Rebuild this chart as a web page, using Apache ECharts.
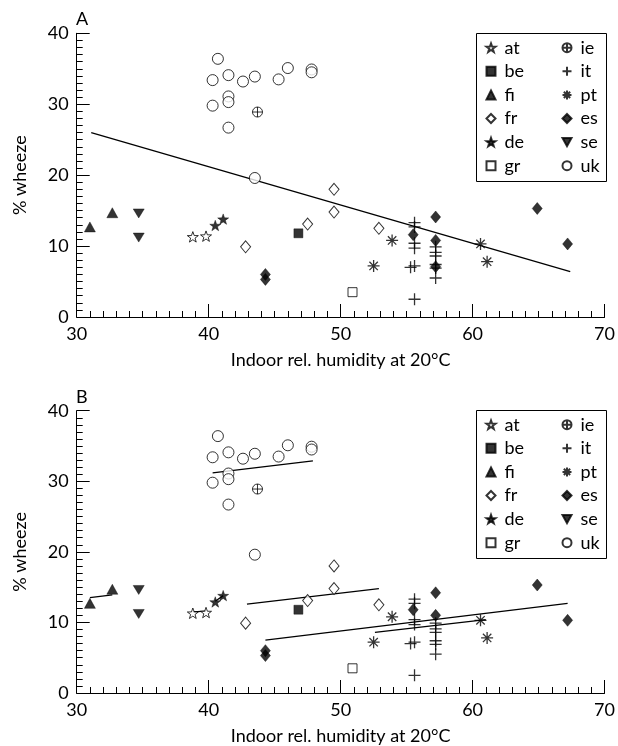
<!DOCTYPE html>
<html>
<head>
<meta charset="utf-8">
<script src="https://cdn.jsdelivr.net/npm/echarts@6/dist/echarts.min.js"></script>
<style>
html,body{margin:0;padding:0;background:#fff;}
#chart{width:618px;height:746px;}
</style>
</head>
<body>
<div id="chart"></div>
<script>
// ---------- data (x = indoor rel. humidity %, y = % wheeze) ----------
var xTicks = [30, 40, 50, 60, 70];
var yTicks = [0, 10, 20, 30, 40];
var countries = ['at', 'be', 'fi', 'fr', 'de', 'gr', 'ie', 'it', 'pt', 'es', 'se', 'uk'];

var at = [[38.8, 11.3], [39.8, 11.4]];
var be = [[46.8, 11.8]];
var fi = [[31.0, 12.7], [32.7, 14.7]];
var fr = [[42.8, 9.9], [47.5, 13.1], [49.5, 18.0], [49.5, 14.8], [52.9, 12.5]];
var de = [[40.5, 12.9], [41.1, 13.8]];
var gr = [[50.9, 3.5]];
var ie = [[43.7, 28.9]];
var it = [[55.6, 13.3], [55.6, 12.7], [55.6, 10.4], [55.6, 9.7], [55.3, 7.0], [55.6, 7.2], [55.6, 2.5],
          [57.2, 9.9], [57.2, 9.1], [57.2, 8.6], [57.2, 7.4], [57.2, 6.9], [57.2, 5.5]];
var pt = [[53.9, 10.8], [52.5, 7.2], [60.6, 10.3], [61.1, 7.8]];
var esA = [[44.3, 6.0], [44.3, 5.3], [55.5, 11.6], [57.2, 14.1], [57.2, 10.8], [57.2, 7.1], [64.9, 15.3], [67.2, 10.3]];
var esB = [[44.3, 6.0], [44.3, 5.3], [55.5, 11.8], [57.2, 14.2], [57.2, 11.0], [64.9, 15.3], [67.2, 10.3]];
var se = [[34.7, 14.6], [34.7, 11.2]];
var uk = [[40.3, 33.4], [40.7, 36.4], [41.5, 34.1], [42.6, 33.2], [43.5, 33.9], [45.3, 33.5], [46.0, 35.1],
          [47.8, 34.9], [47.8, 34.5], [40.3, 29.8], [41.5, 31.1], [41.5, 30.3], [41.5, 26.7], [43.5, 19.6]];

// regression lines (end points)
var fitAll = [[31.1, 26.0], [67.4, 6.4]];
var fitUk = [[40.3, 31.2], [47.9, 32.9]];
var fitFi = [[31.0, 13.5], [32.7, 13.9]];
var fitAt = [[38.8, 11.5], [39.8, 11.6]];
var fitDe = [[40.5, 13.0], [41.1, 13.8]];
var fitFr = [[42.9, 12.6], [52.9, 14.8]];
var fitEs = [[44.3, 7.5], [67.2, 12.7]];
var fitPt = [[52.6, 8.6], [61.0, 10.4]];

// ---------- styles ----------
var FONT = 'Lato';
var STAR = 'path://M50,0L61.8,33.8L97.6,34.5L69,56.2L79.4,90.5L50,70L20.6,90.5L31,56.2L2.4,34.5L38.2,33.8Z';
var PLUS = 'path://M0,50L100,50M50,0L50,100';
var AST = 'path://M0,50L100,50M50,0L50,100M15,15L85,85M85,15L15,85';
var OPLUS = 'path://M0,50A50,50,0,1,1,100,50A50,50,0,1,1,0,50ZM0,50L100,50M50,0L50,100';
var DOWN = 'path://M0,0L100,0L50,90Z';
var open = {color: '#fff', borderColor: '#000', borderWidth: 1};
var solid = {color: '#000', borderColor: '#000', borderWidth: 0.5};
var strokeOnly = {color: 'rgba(0,0,0,0)', borderColor: '#000', borderWidth: 1.3};
var styleOf = {
  at: {symbol: STAR, size: 11, item: open},
  be: {symbol: 'rect', size: 9, item: solid},
  fi: {symbol: 'triangle', size: [11, 10], item: solid},
  fr: {symbol: 'diamond', size: [10, 12], item: open},
  de: {symbol: STAR, size: 11, item: solid},
  gr: {symbol: 'rect', size: 9, item: open},
  ie: {symbol: OPLUS, size: 10, item: open},
  it: {symbol: PLUS, size: 12, item: strokeOnly},
  pt: {symbol: AST, size: 12, item: strokeOnly},
  es: {symbol: 'diamond', size: [10, 12], item: solid},
  se: {symbol: DOWN, size: [11, 10], item: solid},
  uk: {symbol: 'circle', size: 11, item: open}
};

var dataA = {at: at, be: be, fi: fi, fr: fr, de: de, gr: gr, ie: ie, it: it, pt: pt, es: esA, se: se, uk: uk};
var dataB = {at: at, be: be, fi: fi, fr: fr, de: de, gr: gr, ie: ie, it: it, pt: pt, es: esB, se: se, uk: uk};

var series = [];
function addFit(idx, d) {
  series.push({type: 'line', xAxisIndex: idx, yAxisIndex: idx, data: d, symbol: 'none', silent: true,
    z: 1, lineStyle: {color: '#000', width: 1.3}, animation: false});
}
addFit(0, fitAll);
[fitUk, fitFi, fitAt, fitDe, fitFr, fitEs, fitPt].forEach(function (d) { addFit(1, d); });
[dataA, dataB].forEach(function (ds, idx) {
  countries.forEach(function (c) {
    var s = styleOf[c];
    series.push({
      type: 'scatter', name: c, xAxisIndex: idx, yAxisIndex: idx, data: ds[c],
      symbol: s.symbol, symbolSize: s.size, symbolKeepAspect: true, itemStyle: s.item, z: 3,
      animation: false, emphasis: {disabled: true}
    });
  });
});

function xAxis(idx) {
  return {
    type: 'value', gridIndex: idx, min: xTicks[0], max: xTicks[xTicks.length - 1], interval: 10,
    name: 'Indoor rel. humidity at 20°C', nameLocation: 'middle', nameGap: 34,
    nameTextStyle: {fontFamily: FONT, fontSize: 18, color: '#000'},
    axisLine: {lineStyle: {color: '#000', width: 1}},
    axisTick: {inside: true, length: 13, lineStyle: {color: '#000'}},
    minorTick: {show: true, splitNumber: 10, length: 6, lineStyle: {color: '#000'}},
    splitLine: {show: false},
    axisLabel: {fontFamily: FONT, fontSize: 18, color: '#000', margin: 8}
  };
}
function yAxis(idx) {
  return {
    type: 'value', gridIndex: idx, min: yTicks[0], max: yTicks[yTicks.length - 1], interval: 10,
    name: '% wheeze', nameLocation: 'middle', nameGap: 48,
    nameTextStyle: {fontFamily: FONT, fontSize: 18, color: '#000'},
    axisLine: {show: true, lineStyle: {color: '#000', width: 1}},
    axisTick: {show: true, inside: true, length: 13, lineStyle: {color: '#000'}},
    minorTick: {show: true, splitNumber: 10, length: 6, lineStyle: {color: '#000'}},
    splitLine: {show: false},
    axisLabel: {fontFamily: FONT, fontSize: 18, color: '#000', margin: 8}
  };
}
function legend(names, left, top) {
  return {
    orient: 'vertical', left: left, top: top, padding: 0, itemWidth: 9, itemHeight: 9, itemGap: 5.6,
    selectedMode: false, data: names,
    textStyle: {fontFamily: FONT, fontSize: 18, color: '#000', lineHeight: 18, padding: [0, 0, 0, 4]}
  };
}
var col1 = countries.slice(0, 6), col2 = countries.slice(6);

var option = {
  backgroundColor: '#fff',
  animation: false,
  title: [
    {text: 'A', left: 76, top: 10, padding: 0, textStyle: {fontFamily: FONT, fontSize: 18, fontWeight: 'normal', color: '#000'}},
    {text: 'B', left: 76, top: 388, padding: 0, textStyle: {fontFamily: FONT, fontSize: 18, fontWeight: 'normal', color: '#000'}}
  ],
  grid: [
    {left: 76.7, right: 11.5, top: 33.3, height: 283.7},
    {left: 76.7, right: 11.5, top: 410.7, height: 283.3}
  ],
  xAxis: [xAxis(0), xAxis(1)],
  yAxis: [yAxis(0), yAxis(1)],
  legend: [
    legend(col1, 485.5, 38.7), legend(col2, 561.5, 38.7),
    legend(col1, 485.5, 415.7), legend(col2, 561.5, 415.7)
  ],
  graphic: [
    {type: 'rect', z: 0, shape: {x: 476.5, y: 33.5, width: 130, height: 148}, style: {fill: '#fff', stroke: '#000', lineWidth: 1}},
    {type: 'rect', z: 0, shape: {x: 476.5, y: 410.5, width: 130, height: 148}, style: {fill: '#fff', stroke: '#000', lineWidth: 1}}
  ],
  series: series
};
var chart = echarts.init(document.getElementById('chart'));
chart.setOption(option);
</script>
</body>
</html>
